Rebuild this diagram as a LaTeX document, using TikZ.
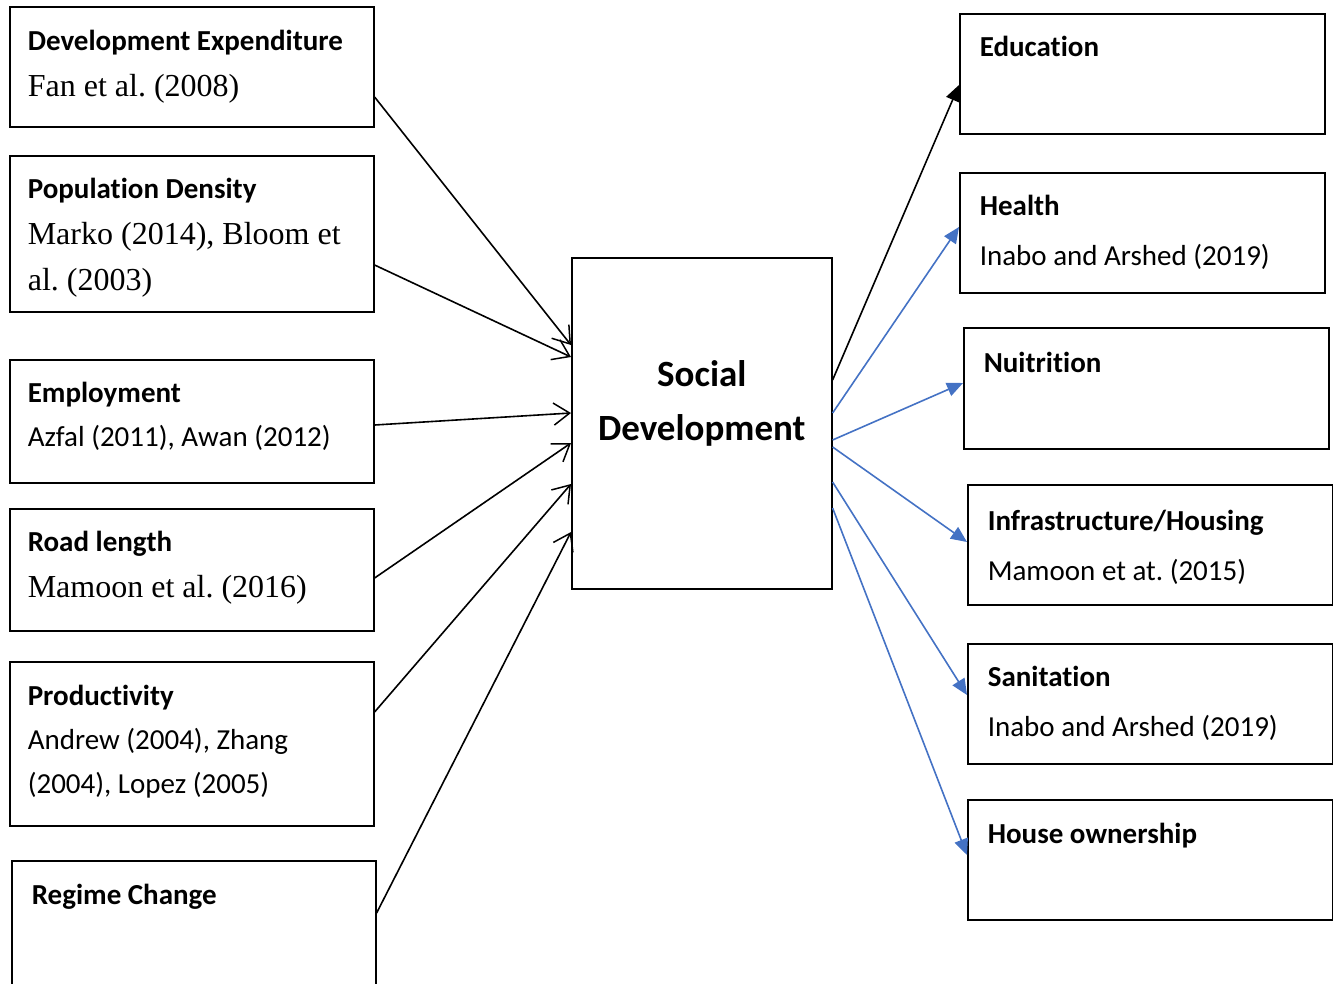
\documentclass[tikz,border=0pt]{standalone}
\usepackage{fontspec}
\setmainfont{Carlito}[Ligatures={NoCommon}]
\newfontfamily\serifrm{Liberation Serif}
\usepackage{tikz}
\usetikzlibrary{arrows.meta}
\usepackage{color}
\definecolor{officeblue}{RGB}{68, 114, 196}
\frenchspacing
% fonts of the boxes
\newcommand{\hd}{\bfseries\fontsize{29}{46}\selectfont}
\newcommand{\rf}{\serifrm\mdseries\fontsize{32}{46}\selectfont}
\newcommand{\rs}{\mdseries\fontsize{29}{44}\selectfont}
\newcommand{\rr}{\mdseries\fontsize{29}{50}\selectfont}
\tikzset{
  box/.style={draw, line width=1.6pt, anchor=north west, inner xsep=9pt, inner ysep=0pt},
  inarrow/.style={line width=1.6pt, -{Straight Barb[length=16pt, width=22pt, line width=1.5pt]}},
  outarrow/.style={line width=1.6pt, color=officeblue, -{Triangle[length=16pt, width=14pt]}}
}

\begin{document}
\begin{tikzpicture}[x=1pt, y=-1pt]
  \useasboundingbox (0,0) rectangle (1333,983);
  % causes
  \node[box] (devexp) at (9,6)
    {\parbox[t][120pt][t]{346pt}{\leftskip=9pt\rule{0pt}{44pt}\hd Development Expenditure\\ \rf Fan et al. (2008)}};
  \node[box] (popden) at (9,155)
    {\parbox[t][156pt][t]{346pt}{\leftskip=9pt\rule{0pt}{43pt}\hd Population Density\\ \rf Marko (2014), Bloom et\\ al. (2003)}};
  \node[box] (employ) at (9,359)
    {\parbox[t][123pt][t]{346pt}{\leftskip=9pt\rule{0pt}{43pt}\hd Employment\\ \rs Azfal (2011), Awan (2012)}};
  \node[box] (road) at (9,508)
    {\parbox[t][122pt][t]{346pt}{\leftskip=9pt\rule{0pt}{43pt}\hd Road length\\ \rf Mamoon et al. (2016)}};
  \node[box] (product) at (9,661)
    {\parbox[t][164pt][t]{346pt}{\leftskip=9pt\rule{0pt}{44pt}\hd Productivity\\ \rs Andrew (2004), Zhang\\ (2004), Lopez (2005)}};
  \node[box] (regime) at (11,860)
    {\parbox[t][135pt][t]{346pt}{\leftskip=11pt\rule{0pt}{44pt}\hd Regime Change}};
  % centre
  \node[box, inner xsep=0pt] (social) at (571,257)
    {\parbox[t][331pt][t]{260pt}{\centering\bfseries\fontsize{37}{54}\selectfont\rule{0pt}{129pt}Social\\Development}};
  % outcomes
  \node[box] (educ) at (959,13)
    {\parbox[t][120pt][t]{347pt}{\leftskip=11pt\rule{0pt}{43pt}\hd Education}};
  \node[box] (health) at (959,172)
    {\parbox[t][120pt][t]{347pt}{\leftskip=11pt\rule{0pt}{43pt}\hd Health\\ \rr Inabo and Arshed (2019)}};
  \node[box] (nutri) at (963,327)
    {\parbox[t][121pt][t]{347pt}{\leftskip=11pt\rule{0pt}{45pt}\hd Nuitrition}};
  \node[box] (infra) at (967,484)
    {\parbox[t][120pt][t]{347pt}{\leftskip=11pt\rule{0pt}{46pt}\hd Infrastructure/Housing\\ \rr Mamoon et at. (2015)}};
  \node[box] (sanit) at (967,643)
    {\parbox[t][120pt][t]{347pt}{\leftskip=11pt\rule{0pt}{43pt}\hd Sanitation\\ \rr Inabo and Arshed (2019)}};
  \node[box] (house) at (967,799)
    {\parbox[t][120pt][t]{347pt}{\leftskip=11pt\rule{0pt}{44pt}\hd House ownership}};
  % arrows into the centre
  \draw[inarrow] ([yshift=-91pt]devexp.north east) -- ([yshift=-88pt]social.north west);
  \draw[inarrow] ([yshift=-110pt]popden.north east) -- ([yshift=-100pt]social.north west);
  \draw[inarrow] ([yshift=-66pt]employ.north east) -- ([yshift=-156pt]social.north west);
  \draw[inarrow] ([yshift=-70pt]road.north east) -- ([yshift=-186pt]social.north west);
  \draw[inarrow] ([yshift=-51pt]product.north east) -- ([yshift=-227pt]social.north west);
  \draw[inarrow] ([yshift=-53pt]regime.north east) -- ([yshift=-275pt]social.north west);
  % arrows out of the centre
  \draw[outarrow, color=black] ([yshift=-123pt]social.north east) -- ([yshift=-72pt]educ.north west);
  \draw[outarrow] ([yshift=-156pt]social.north east) -- ([yshift=-55pt]health.north west);
  \draw[outarrow] ([yshift=-183pt]social.north east) -- ([yshift=-56pt]nutri.north west);
  \draw[outarrow] ([yshift=-190pt]social.north east) -- ([yshift=-58pt]infra.north west);
  \draw[outarrow] ([yshift=-225pt]social.north east) -- ([yshift=-52pt]sanit.north west);
  \draw[outarrow] ([yshift=-251pt]social.north east) -- ([yshift=-56pt]house.north west);
\end{tikzpicture}
\end{document}
